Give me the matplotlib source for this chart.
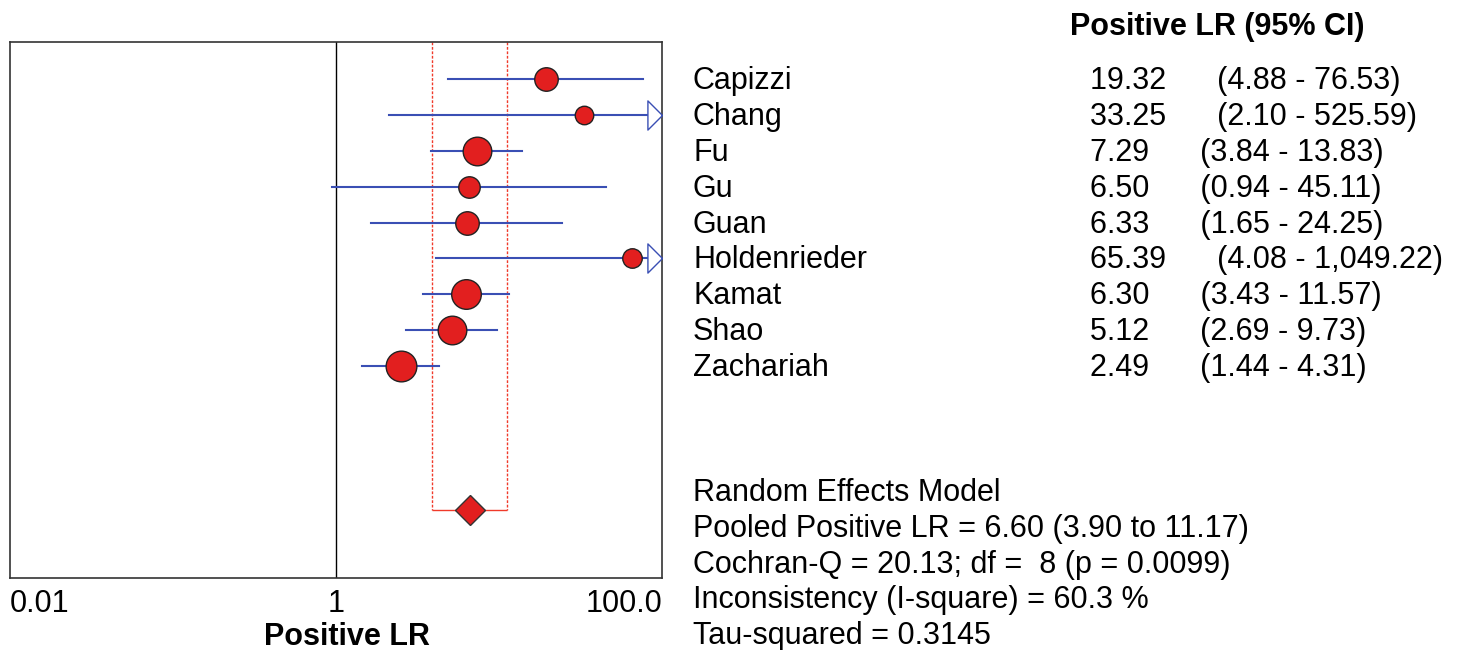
import numpy as np
import matplotlib.pyplot as plt
import matplotlib.transforms as mtransforms

plt.rcParams["font.family"] = ["Liberation Sans", "DejaVu Sans"]

# study data
studies = ["Capizzi", "Chang", "Fu", "Gu", "Guan", "Holdenrieder", "Kamat", "Shao", "Zachariah"]
lr = [19.32, 33.25, 7.29, 6.50, 6.33, 65.39, 6.30, 5.12, 2.49]
ci_lo = [4.88, 2.10, 3.84, 0.94, 1.65, 4.08, 3.43, 2.69, 1.44]
ci_hi = [76.53, 525.59, 13.83, 45.11, 24.25, 1049.22, 11.57, 9.73, 4.31]
weights = [10.2, 6.3, 15.1, 8.5, 10.2, 7.0, 16.2, 15.1, 17.4]

pooled = 6.60
pooled_lo = 3.90
pooled_hi = 11.17

stats_lines = [
    "Random Effects Model",
    "Pooled Positive LR = 6.60 (3.90 to 11.17)",
    "Cochran-Q = 20.13; df =  8 (p = 0.0099)",
    "Inconsistency (I-square) = 60.3 %",
    "Tau-squared = 0.3145",
]

xticks = [0.01, 1, 100]
xticklabels = ["0.01", "1", "100.0"]

red = "#e21f1f"
blue = "#3a4fb4"
fs = 22

W, H = 1463, 650
fig = plt.figure(figsize=(W / 100, H / 100), dpi=100)
ax = fig.add_axes([10 / W, 72 / H, 652 / W, 536 / H])

ax.set_xscale("log")
ax.set_xlim(xticks[0], xticks[-1])
rows = np.arange(len(studies))
pooled_row = len(studies) + 3
ax.set_ylim(pooled_row + 1.9, -1.03)

# line of no effect
ax.axvline(1, color="black", lw=1.0, zorder=1)

# pooled CI bracket
ax.vlines([pooled_lo, pooled_hi], -1.03, pooled_row, colors="#f03a2a",
          linestyles=(0, (2, 1.2)), lw=1.0, zorder=1)
ax.hlines(pooled_row, pooled_lo, pooled_hi, colors="#f03a2a", lw=1.0, zorder=1)

# study CIs and point estimates
xmax = ax.get_xlim()[1]
arrow = [(0, 0), (-1, 1), (-1, -1), (0, 0)]
for r, v, lo, hi, w in zip(rows, lr, ci_lo, ci_hi, weights):
    ax.plot([lo, min(hi, xmax)], [r, r], color=blue, lw=1.5, zorder=2)
    if hi > xmax:
        ax.plot([xmax], [r], marker=arrow, ms=21, mfc="white", mec=blue,
                mew=1.0, clip_on=False, zorder=3)
    ax.plot([v], [r], marker="o", ms=5.3 * np.sqrt(w), mfc=red, mec="#222222",
            mew=1.0, zorder=4)

ax.plot([pooled], [pooled_row], marker="D", ms=15, mfc=red, mec="#333333",
        mew=1.0, zorder=4)

ax.set_yticks([])
ax.set_xticks(xticks)
ax.set_xticklabels(xticklabels, fontsize=fs)
ax.xaxis.set_minor_locator(plt.NullLocator())
ax.tick_params(axis="x", length=0, pad=8)
labels = ax.get_xticklabels()
labels[0].set_ha("left")
labels[-1].set_ha("right")
ax.set_xlabel("Positive LR", fontsize=fs, fontweight="bold", labelpad=2, x=0.517)
for s in ax.spines.values():
    s.set_color("#333333")
    s.set_linewidth(1.2)

# right-hand text columns (nudged down a touch to sit on the row lines)
nudge = mtransforms.ScaledTranslation(0, -2 / 100, fig.dpi_scale_trans)
tr = mtransforms.blended_transform_factory(fig.transFigure, ax.transData) + nudge
for r, name, v, lo, hi in zip(rows, studies, lr, ci_lo, ci_hi):
    ax.text(693 / W, r, name, transform=tr, fontsize=fs, va="center", ha="left")
    ax.text(1090 / W, r, f"{v:.2f}      ({lo:.2f} - {hi:,.2f})", transform=tr,
            fontsize=fs, va="center", ha="left")

fig.text(1217 / W, 1 - 27 / H, "Positive LR (95% CI)", fontsize=fs,
         fontweight="bold", ha="center", va="center")

for i, line in enumerate(stats_lines):
    fig.text(693 / W, 1 - (493 + i * 35.75) / H, line, fontsize=fs,
             ha="left", va="center")

fig.savefig("out.png", dpi=100)
